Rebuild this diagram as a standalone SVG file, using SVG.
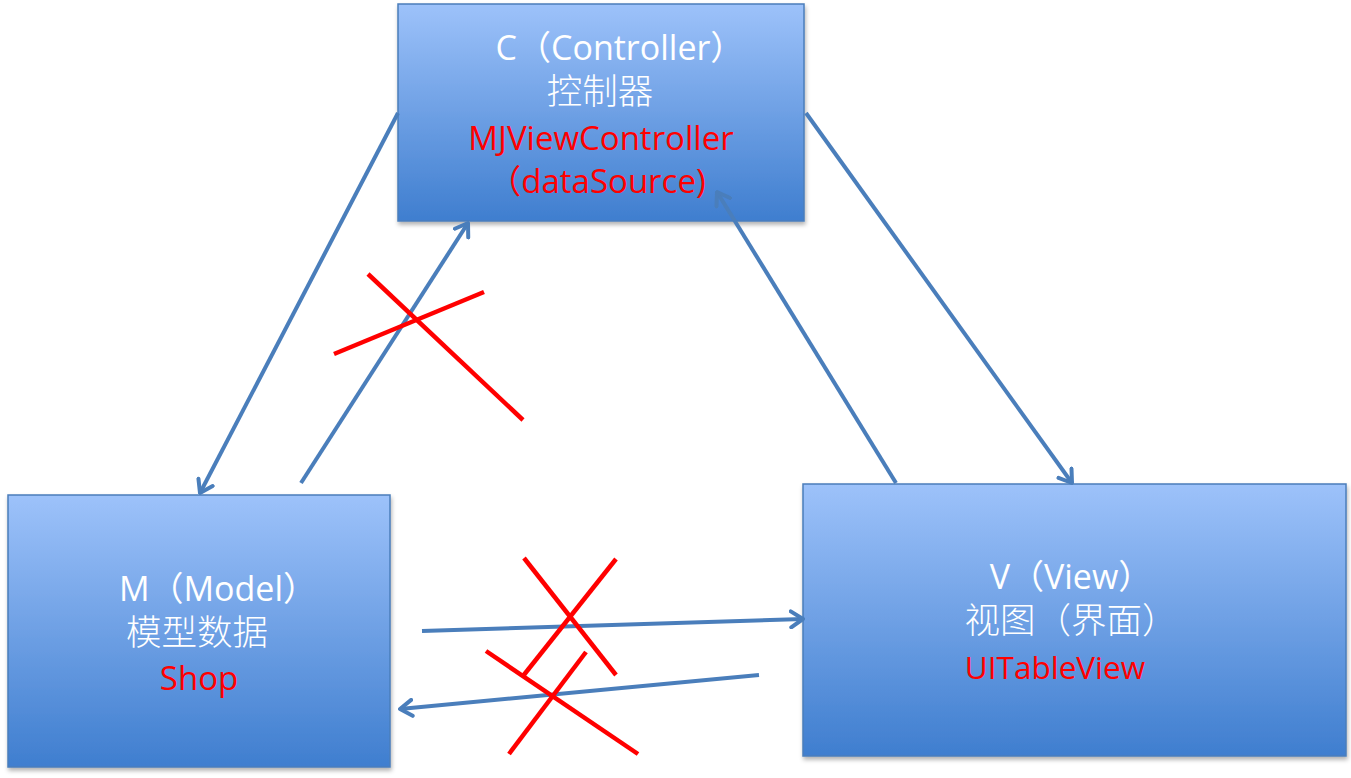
<svg xmlns="http://www.w3.org/2000/svg" width="1351" height="778" viewBox="0 0 1351 778">
<defs>
<linearGradient id="boxg" x1="0" y1="0" x2="0" y2="1">
<stop offset="0" stop-color="#9dc2fa"/>
<stop offset="1" stop-color="#3f7ecf"/>
</linearGradient>
<filter id="sh" x="-5%" y="-5%" width="110%" height="115%">
<feDropShadow dx="1" dy="3" stdDeviation="2" flood-color="#000" flood-opacity="0.3"/>
</filter>
<marker id="arr" viewBox="0 0 16 20" refX="14" refY="10" markerWidth="16" markerHeight="20" markerUnits="userSpaceOnUse" orient="auto">
<path d="M2,2 L14,10 L2,18" fill="none" stroke="#4a7ebb" stroke-width="4" stroke-linecap="round" stroke-linejoin="round"/>
</marker>
<style>
.box{fill:url(#boxg);stroke:#4a7ebb;stroke-width:1.5;filter:url(#sh)}
.t{font-family:"Open Sans","Noto Sans","Noto Sans CJK SC",sans-serif;text-anchor:middle;fill:#fff;font-size:34px}
.r{font-size:33px;fill:#ff0000}
.cjk{font-family:"Noto Sans CJK SC",sans-serif;font-weight:300;font-size:35.5px;fill:#fff;text-anchor:middle}
.conn{stroke:#4a7ebb;stroke-width:4;fill:none;marker-end:url(#arr)}
.x{stroke:#ff0000;stroke-width:4.5;fill:none}
</style>
</defs>
<rect width="1351" height="778" fill="#fff"/>
<g id="node-controller">
<rect class="box" x="398" y="4" width="406" height="217"/>
<text class="t" x="620" y="60">C（Controller）</text>
<text class="cjk" x="600" y="104">控制器</text>
<text class="t r" x="601" y="150">MJViewController</text>
<text class="t r" x="597" y="193">（dataSource)</text>
</g>
<g id="node-model">
<rect class="box" x="8" y="495" width="382" height="272"/>
<text class="t" x="218" y="601">M（Model）</text>
<text class="cjk" x="197" y="645">模型数据</text>
<text class="t r" x="199" y="690">Shop</text>
</g>
<g id="node-view">
<rect class="box" x="803" y="484" width="543" height="272"/>
<text class="t" x="1071" y="589">V（View）</text>
<text class="cjk" x="1071" y="633">视图（界面）</text>
<text class="t r" x="1055" y="679" style="font-size:31.5px">UITableView</text>
</g>
<g id="connectors">
<line class="conn" x1="398" y1="113" x2="200" y2="493"/>
<line class="conn" x1="301" y1="483" x2="468" y2="223"/>
<line class="conn" x1="806" y1="113" x2="1072" y2="483"/>
<line class="conn" x1="896" y1="483" x2="717" y2="192"/>
<line class="conn" x1="422" y1="631" x2="803" y2="619"/>
<line class="conn" x1="759" y1="675" x2="400" y2="709"/>
</g>
<g id="crosses">
<line class="x" x1="368" y1="274" x2="523" y2="420"/>
<line class="x" x1="334" y1="354" x2="484" y2="292"/>
<line class="x" x1="524" y1="558" x2="616" y2="675"/>
<line class="x" x1="616" y1="559" x2="523" y2="676"/>
<line class="x" x1="486" y1="651" x2="638" y2="754"/>
<line class="x" x1="586" y1="652" x2="509" y2="754"/>
</g>
</svg>
